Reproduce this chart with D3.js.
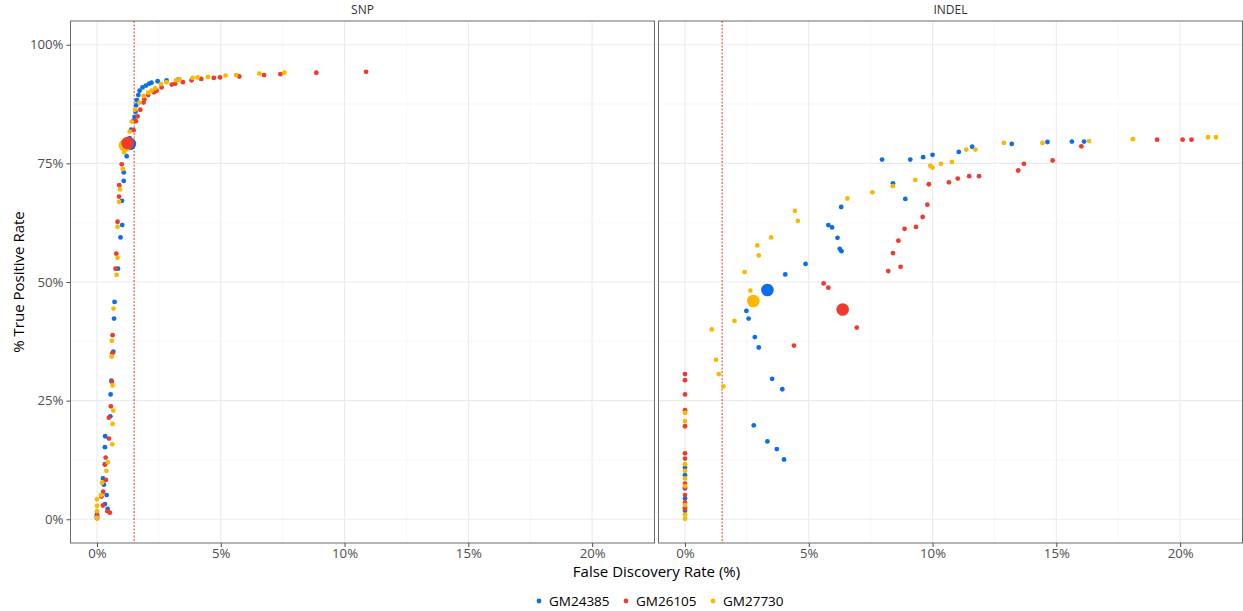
<!DOCTYPE html>
<html>
<head>
<meta charset="utf-8">
<script src="https://cdn.jsdelivr.net/npm/d3@7"></script>
<style>
  html, body { margin: 0; padding: 0; background: #fff; }
  svg { display: block; font-family: "Open Sans", "Noto Sans", sans-serif; }
</style>
</head>
<body>
<svg id="chart" width="1243" height="611"></svg>
<script>
// ---------- data (FDR %, TPR %) ----------
const panels = ["SNP", "INDEL"];
const samples = ["GM24385", "GM26105", "GM27730"];
const sampleColors = ["#0a6ee8", "#ee3b2e", "#fbb800"];

const snp_GM24385 = [[3.29,92.7],[2.81,92.5],[2.45,92.3],[2.2,92.0],[2.11,91.8],[1.98,91.4],[1.84,91.0],[1.72,90.3],[1.67,89.4],[1.61,88.3],[1.58,87.2],[1.56,85.9],[1.52,84.8],[1.47,84.0],[1.38,82.1],[1.32,80.3],[1.2,76.5],[1.08,73.1],[1.08,71.3],[1.01,67.1],[1.02,62.0],[0.95,59.4],[0.85,52.8],[0.71,45.8],[0.69,42.3],[0.66,35.3],[0.58,29.2],[0.55,26.3],[0.54,21.7],[0.33,17.5],[0.32,15.2],[0.32,11.6],[0.24,8.6],[0.28,7.3],[0.39,5.1],[0.32,3.2],[0.43,2.2],[0,1.0],[0,0.5]];
const snp_GM26105 = [[10.87,94.3],[8.86,94.1],[7.41,93.8],[6.75,93.6],[5.75,93.3],[4.97,93.1],[4.72,93.0],[4.21,92.8],[3.82,92.5],[3.47,92.1],[3.16,91.8],[3.02,91.6],[2.61,91.0],[2.41,90.3],[2.3,90.0],[2.07,89.4],[1.91,88.5],[1.88,87.8],[1.75,86.3],[1.64,84.9],[1.57,83.9],[1.48,82.0],[1.0,74.8],[0.9,70.4],[0.89,68.0],[0.83,62.7],[0.78,56.0],[0.75,52.8],[0.63,38.8],[0.62,35.0],[0.6,29.0],[0.56,23.8],[0.48,21.4],[0.48,17.0],[0.35,13.0],[0.32,11.5],[0.36,8.3],[0.25,5.8],[0.18,4.8],[0.24,2.9],[0.42,1.7],[0.52,1.4],[0,0.8],[0,0.2]];
const snp_GM27730 = [[7.57,94.1],[6.56,93.9],[5.62,93.6],[5.19,93.5],[4.48,93.2],[4.06,93.1],[3.86,93.0],[3.33,92.7],[3.19,92.5],[2.81,92.1],[2.58,91.7],[2.35,90.8],[2.2,90.3],[2.07,89.9],[1.88,89.2],[1.71,87.8],[1.53,86.3],[1.40,83.8],[1.32,81.7],[1.1,77.3],[1.04,73.8],[0.93,69.5],[0.89,66.9],[0.83,61.6],[0.83,55.1],[0.79,51.5],[0.67,44.4],[0.6,37.6],[0.59,34.3],[0.63,28.2],[0.66,22.9],[0.63,20.1],[0.62,15.8],[0.44,12.0],[0.38,10.2],[0.2,7.7],[0.16,5.1],[0,4.2],[0,2.8],[0,1.7],[0,0.3]];

const indel_GM24385 = [[3.52,29.6],[3.93,27.4],[2.78,19.8],[3.33,16.4],[3.71,14.8],[4.0,12.6],[2.48,43.9],[2.57,42.3],[2.82,38.4],[2.98,36.2],[4.05,51.6],[4.87,53.8],[5.79,62.0],[5.94,61.5],[6.16,59.3],[6.25,57.0],[6.32,56.5],[6.31,65.8],[8.4,70.8],[8.9,67.5],[7.96,75.8],[9.1,75.8],[9.62,76.3],[10.0,76.8],[11.06,77.4],[11.6,78.5],[13.2,79.1],[14.64,79.5],[15.63,79.6],[16.12,79.6],[0,10.9],[0,9.3],[0,6.5],[0,4.4],[0,2.5],[0,1.8]];
const indel_GM26105 = [[5.6,49.7],[5.79,48.8],[6.94,40.4],[4.4,36.6],[8.21,52.3],[8.71,53.2],[8.4,56.1],[8.62,58.7],[8.87,61.2],[9.33,61.6],[9.6,63.7],[9.79,66.3],[9.85,70.6],[10.66,71.0],[11.02,71.8],[11.48,72.3],[11.88,72.3],[13.46,73.5],[13.69,74.9],[14.85,75.6],[16.01,78.6],[19.07,80.0],[20.1,80.0],[20.46,80.0],[0,30.6],[0,29.3],[0,26.3],[0,23.0],[0,19.6],[0,13.9],[0,12.8],[0,7.5],[0,6.7],[0,5.1],[0,3.5],[0,2.2]];
const indel_GM27730 = [[2.64,48.2],[2.41,52.1],[2.98,55.6],[2.92,57.7],[3.48,59.4],[4.56,62.9],[4.44,65.0],[6.56,67.6],[7.57,68.9],[8.39,70.2],[9.3,71.5],[2.0,41.8],[1.08,40.0],[1.25,33.6],[1.37,30.6],[1.55,28.0],[9.91,74.5],[10.0,74.1],[10.34,74.9],[10.78,75.3],[11.36,77.9],[11.73,77.9],[12.88,79.3],[14.44,79.3],[16.32,79.7],[18.09,80.1],[21.13,80.5],[21.45,80.5],[0,22.4],[0,20.7],[0,11.6],[0,10.2],[0,8.6],[0,7.0],[0,3.0],[0,1.0],[0,0.1]];

// highlighted (default threshold) points, order: GM24385, GM26105, GM27730
const snp_highlight = [[1.33,79.1],[1.24,79.3],[1.13,78.8]];
const indel_highlight = [[3.33,48.3],[6.37,44.2],[2.76,46.0]];

const thresholdFDR = 1.5;
const xTicks = [0, 5, 10, 15, 20];
const xMinor = [2.5, 7.5, 12.5, 17.5, 22.5];
const yTicks = [0, 25, 50, 75, 100];
const yMinor = [12.5, 37.5, 62.5, 87.5];
const xTitle = "False Discovery Rate (%)";
const yTitle = "% True Positive Rate";

const panelData = {
  SNP: { series: [snp_GM24385, snp_GM26105, snp_GM27730], highlight: snp_highlight },
  INDEL: { series: [indel_GM24385, indel_GM26105, indel_GM27730], highlight: indel_highlight }
};

// ---------- layout ----------
const svg = d3.select("#chart");
const panelTop = 21, panelBottom = 543;
const panelLefts = [70.5, 658.5];
const panelW = 584;

const y = d3.scaleLinear().domain([-5, 105]).range([panelBottom, panelTop]);
const fmtPct = d => d + "%";

panels.forEach((name, pi) => {
  const left = panelLefts[pi];
  const x = d3.scaleLinear().domain([-1.07, 22.52]).range([left, left + panelW]);
  const g = svg.append("g");

  // grid
  g.selectAll(".xm").data(xMinor).join("line")
    .attr("x1", d => x(d)).attr("x2", d => x(d)).attr("y1", panelTop).attr("y2", panelBottom)
    .attr("stroke", "#f3f3f3").attr("stroke-width", 0.6);
  g.selectAll(".ym").data(yMinor).join("line")
    .attr("x1", left).attr("x2", left + panelW).attr("y1", d => y(d)).attr("y2", d => y(d))
    .attr("stroke", "#f3f3f3").attr("stroke-width", 0.6);
  g.selectAll(".xM").data(xTicks).join("line")
    .attr("x1", d => x(d)).attr("x2", d => x(d)).attr("y1", panelTop).attr("y2", panelBottom)
    .attr("stroke", "#ebebeb").attr("stroke-width", 1.1);
  g.selectAll(".yM").data(yTicks).join("line")
    .attr("x1", left).attr("x2", left + panelW).attr("y1", d => y(d)).attr("y2", d => y(d))
    .attr("stroke", "#ebebeb").attr("stroke-width", 1.1);

  // threshold line
  g.append("line")
    .attr("x1", x(thresholdFDR)).attr("x2", x(thresholdFDR))
    .attr("y1", panelTop).attr("y2", panelBottom)
    .attr("stroke", "#e3342f").attr("stroke-width", 1)
    .attr("stroke-dasharray", "2,1.5");

  // points
  const pd = panelData[name];
  pd.series.forEach((arr, si) => {
    g.append("g").selectAll("circle").data(arr).join("circle")
      .attr("cx", d => x(d[0])).attr("cy", d => y(d[1]))
      .attr("r", 2.4).attr("fill", sampleColors[si]);
  });
  // highlighted points: blue, yellow, red(top)
  [0, 2, 1].forEach(si => {
    const d = pd.highlight[si];
    g.append("circle")
      .attr("cx", x(d[0])).attr("cy", y(d[1]))
      .attr("r", 6.3).attr("fill", sampleColors[si]);
  });

  // border
  g.append("rect")
    .attr("x", left).attr("y", panelTop).attr("width", panelW).attr("height", panelBottom - panelTop)
    .attr("fill", "none").attr("stroke", "#6b6b6b").attr("stroke-width", 1);

  // strip label
  g.append("text")
    .attr("x", left + panelW / 2).attr("y", 14)
    .attr("text-anchor", "middle").attr("font-size", 12).attr("fill", "#333")
    .text(name);

  // x axis
  const xa = g.append("g").attr("transform", `translate(0,${panelBottom})`)
    .call(d3.axisBottom(x).tickValues(xTicks).tickFormat(fmtPct).tickSize(4).tickPadding(2));
  xa.select(".domain").remove();
  xa.selectAll(".tick line").attr("stroke", "#4d4d4d");
  xa.selectAll(".tick text").attr("fill", "#4d4d4d").attr("font-size", 13.2)
    .attr("font-family", "'Open Sans', 'Noto Sans', sans-serif");

  if (pi === 0) {
    const ya = g.append("g").attr("transform", `translate(${left},0)`)
      .call(d3.axisLeft(y).tickValues(yTicks).tickFormat(fmtPct).tickSize(4).tickPadding(3));
    ya.select(".domain").remove();
    ya.selectAll(".tick line").attr("stroke", "#4d4d4d");
    ya.selectAll(".tick text").attr("fill", "#4d4d4d").attr("font-size", 13.2)
      .attr("font-family", "'Open Sans', 'Noto Sans', sans-serif");
  }
});

// axis titles
svg.append("text")
  .attr("x", (panelLefts[0] + panelLefts[1] + panelW) / 2).attr("y", 577)
  .attr("text-anchor", "middle").attr("font-size", 15).attr("fill", "#000")
  .text(xTitle);
svg.append("text")
  .attr("transform", `translate(24,${(panelTop + panelBottom) / 2}) rotate(-90)`)
  .attr("text-anchor", "middle").attr("font-size", 15).attr("fill", "#000")
  .text(yTitle);

// legend
const legendX = [539, 626, 713];
const lg = svg.append("g");
samples.forEach((s, i) => {
  lg.append("circle").attr("cx", legendX[i]).attr("cy", 601).attr("r", 2.4).attr("fill", sampleColors[i]);
  lg.append("text").attr("x", legendX[i] + 10).attr("y", 606)
    .attr("font-size", 13.5).attr("fill", "#000").text(s);
});
</script>
</body>
</html>
